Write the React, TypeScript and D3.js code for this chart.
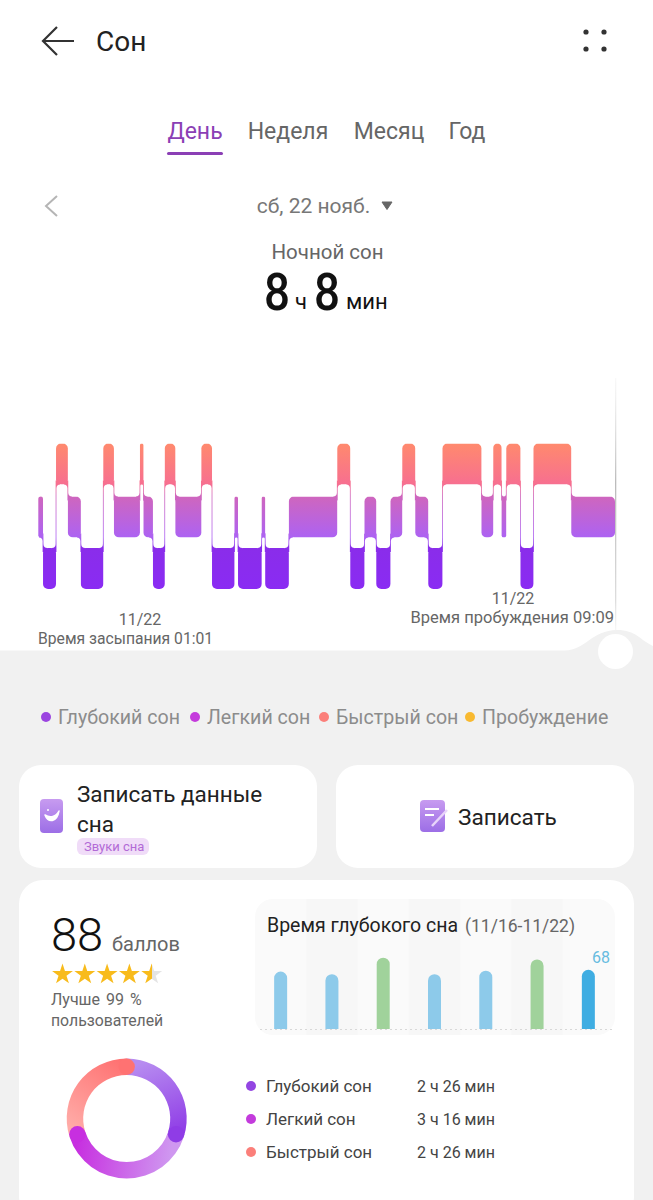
import React from 'react';
import * as d3 from 'd3';

const W = 653;
const H = 1200;
const FONT = 'Roboto, "Noto Sans", sans-serif';

// sleep stages, minutes after falling asleep at 01:01
// 0 = rem, 1 = light, 2 = deep
const segmentStages = [1, 2, 0, 1, 2, 0, 1, 0, 1, 2, 0, 1, 0, 2, 1, 2, 1, 2, 1, 0, 2, 1, 2, 1, 0, 1, 2, 0, 1, 0, 1, 0, 2, 0, 1];
const segmentEnds = [4, 15, 25, 36, 55, 64, 86, 89, 97, 107, 116, 138, 147, 166, 169, 189, 192, 212, 253, 264, 276, 286, 298, 308, 319, 330, 342, 375, 385, 392, 396, 408, 419, 451, 488];

const legendLabels = ['Глубокий сон', 'Легкий сон', 'Быстрый сон', 'Пробуждение'];
const legendColors = ['#9b45e0', '#c43bdc', '#fb7f7a', '#f8b930'];
const legendX = [46, 195, 324, 470];

// deep sleep, last 7 days
const weekValues = [66, 63, 82, 63, 67, 80, 68];
const weekDays = ['11/16', '11/17', '11/18', '11/19', '11/20', '11/21', '11/22'];

const ringNames = ['Глубокий сон', 'Легкий сон', 'Быстрый сон'];
const ringMinutes = [146, 196, 146];
const ringLabels = ['2 ч 26 мин', '3 ч 16 мин', '2 ч 26 мин'];
const ringDots = ['#9345e2', '#c33bdc', '#fb7f7a'];

const x = d3.scaleLinear().domain([0, 488]).range([38.3, 615]);
const bandTop = d3.scaleOrdinal<number, number>().domain([0, 1, 2]).range([443.5, 496.5, 548]);
const bandH = 41;

// d3.path has no roundRect here
function roundRect(x0: number, y0: number, w: number, h: number, r: number, rBottom = r) {
  const rt = Math.min(r, w / 2, h / 2);
  const rb = Math.min(rBottom, w / 2, h / 2);
  const p = d3.path();
  p.moveTo(x0 + rt, y0);
  p.lineTo(x0 + w - rt, y0);
  p.arcTo(x0 + w, y0, x0 + w, y0 + rt, rt);
  p.lineTo(x0 + w, y0 + h - rb);
  p.arcTo(x0 + w, y0 + h, x0 + w - rb, y0 + h, rb);
  p.lineTo(x0 + rb, y0 + h);
  p.arcTo(x0, y0 + h, x0, y0 + h - rb, rb);
  p.lineTo(x0, y0 + rt);
  p.arcTo(x0, y0, x0 + rt, y0, rt);
  p.closePath();
  return p.toString();
}

function Hypnogram() {
  const segs = segmentStages.map((s, i) => ({
    stage: s,
    x0: x(i === 0 ? 0 : segmentEnds[i - 1]),
    x1: x(segmentEnds[i]),
    top: bandTop(s),
  }));
  const r = 4;
  const gap = 0.4;
  return (
    <g>
      <defs>
        <linearGradient id="stageFill" gradientUnits="userSpaceOnUse" x1="0" x2="0" y1="443" y2="590">
          <stop offset="0" stopColor="#ff8a6d" />
          <stop offset="0.28" stopColor="#f76f90" />
          <stop offset="0.36" stopColor="#cf66bd" />
          <stop offset="0.64" stopColor="#ad62f2" />
          <stop offset="0.71" stopColor="#8a2dea" />
          <stop offset="1" stopColor="#8a2bf3" />
        </linearGradient>
      </defs>
      {segs.slice(1).map((s, i) => {
        const a = segs[i];
        const upper = a.top < s.top ? a : s;
        const lower = a.top < s.top ? s : a;
        return (
          <rect key={i} x={s.x0 - r} width={r * 2} y={upper.top + bandH - r} height={lower.top - upper.top - bandH + r * 2} fill="url(#stageFill)" />
        );
      })}
      {segs.map((s, i) => (
        <path key={i} d={roundRect(s.x0, s.top, s.x1 - s.x0, bandH, 5)} fill="url(#stageFill)" />
      ))}
      {segs.map((s, i) => {
        // first column runs off to the left so no connector edge shows there
        const left = i === 0 ? s.x0 - r - 2 : s.x0 + gap;
        const w = s.x1 - gap - left;
        return (
          <g key={i} fill="#fff">
            <path d={roundRect(left, 380, w, s.top - 380, r)} />
            <path d={roundRect(left, s.top + bandH, w, 610 - s.top - bandH, r)} />
          </g>
        );
      })}
    </g>
  );
}

function WeekBars() {
  const bx = d3.scaleBand<string>().domain(weekDays).range([255, 614]);
  const by = d3.scaleLinear().domain([0, 100]).range([1029, 942]);
  const barW = 13;
  return (
    <g>
      <clipPath id="weekClip">
        <rect x={255} y={899} width={360} height={136} rx={18} />
      </clipPath>
      <g clipPath="url(#weekClip)">
        {weekDays.map((d, i) => (
          <rect key={d} x={bx(d)} y={899} width={bx.bandwidth() + 1} height={136} fill={i % 2 ? '#f7f7f7' : '#fafafa'} />
        ))}
      </g>
      <line x1={260} x2={612} y1={1029.5} y2={1029.5} stroke="#d8d8d8" strokeDasharray="2 3" />
      {weekDays.map((d, i) => {
        const cx = bx(d)! + bx.bandwidth() / 2;
        const color = i === weekDays.length - 1 ? '#3fade2' : weekValues[i] >= 80 ? '#a0d29b' : '#8dcaea';
        const y0 = by(weekValues[i]);
        const h = by(0) - y0;
        return <path key={d} d={roundRect(cx - barW / 2, y0, barW, h, barW / 2, 0)} fill={color} />;
      })}
      <text x={601} y={963} textAnchor="middle" fontSize={16} fill="#67bce0">{weekValues[6]}</text>
    </g>
  );
}

function Ring() {
  const cx = 126.7;
  const cy = 1118.5;
  const pie = d3.pie<number>().sort(null);
  const arc = d3.arc<d3.PieArcDatum<number>>().innerRadius(43.5).outerRadius(60);
  const parts = pie(ringMinutes);
  const grads = [
    { from: [20, -58], to: [49, 16], c0: '#b78cf0', c1: '#8f3ce6' },
    { from: [45, 30], to: [-49, 16], c0: '#cf97f0', c1: '#c72fe0' },
    { from: [-50, 15], to: [0, -52], c0: '#ffaca8', c1: '#ff7272' },
  ];
  return (
    <g transform={`translate(${cx},${cy})`}>
      <defs>
        {grads.map((g, i) => (
          <linearGradient key={i} id={`ring${i}`} gradientUnits="userSpaceOnUse" x1={g.from[0]} y1={g.from[1]} x2={g.to[0]} y2={g.to[1]}>
            <stop offset="0" stopColor={g.c0} />
            <stop offset="1" stopColor={g.c1} />
          </linearGradient>
        ))}
      </defs>
      {parts.map((p, i) => (
        <path key={i} d={arc(p)!} fill={`url(#ring${i})`} />
      ))}
      {parts.map((p, i) => {
        const [ex, ey] = arc.centroid({ ...p, startAngle: p.endAngle, endAngle: p.endAngle });
        return <circle key={i} cx={ex} cy={ey} r={8.2} fill={grads[i].c1} />;
      })}
    </g>
  );
}

function Stars() {
  const star = d3.symbol().type(d3.symbolStar).size(135);
  const xs = d3.range(5).map((i) => 62.5 + i * 22.3);
  return (
    <g>
      <defs>
        <linearGradient id="halfStar">
          <stop offset="0.5" stopColor="#f8bb1c" />
          <stop offset="0.5" stopColor="#e4e4e4" />
        </linearGradient>
      </defs>
      {xs.map((sx, i) => (
        <path key={i} d={star()!} transform={`translate(${sx},974.5)`} fill={i === 4 ? 'url(#halfStar)' : '#f8bb1c'} />
      ))}
    </g>
  );
}

export default function App() {
  return (
    <svg width={W} height={H} viewBox={`0 0 ${W} ${H}`} fontFamily={FONT} style={{ position: 'absolute', left: 0, top: 0, background: '#fff' }}>
      <defs>
        <linearGradient id="rule" x1="0" x2="0" y1="0" y2="1">
          <stop offset="0" stopColor="#ddd" stopOpacity="0.2" />
          <stop offset="0.4" stopColor="#bbb" />
          <stop offset="0.85" stopColor="#ddd" />
          <stop offset="1" stopColor="#eee" stopOpacity="0.2" />
        </linearGradient>
        <linearGradient id="iconFill" x1="0" x2="0" y1="0" y2="1">
          <stop offset="0" stopColor="#c79bf0" />
          <stop offset="1" stopColor="#9c6ee6" />
        </linearGradient>
      </defs>

      {/* header */}
      <path d="M74 41H43M57 27L43 41L57 55" fill="none" stroke="#333" strokeWidth={2.2} />
      <text x={96} y={51} fontSize={28} fill="#222">Сон</text>
      {[[586, 32], [604, 32], [586, 49], [604, 49]].map(([cx, cy], i) => (
        <circle key={i} cx={cx} cy={cy} r={2.6} fill="#333" />
      ))}

      {/* tabs */}
      <text x={195} y={139} textAnchor="middle" fontSize={23} fill="#8b3fb5">День</text>
      <rect x={167} y={152} width={56} height={3} rx={1.5} fill="#8b3fb5" />
      <text x={288} y={139} textAnchor="middle" fontSize={23} fill="#666">Неделя</text>
      <text x={389} y={139} textAnchor="middle" fontSize={23} fill="#666">Месяц</text>
      <text x={467} y={139} textAnchor="middle" fontSize={23} fill="#666">Год</text>

      {/* date */}
      <path d="M57 196L46 206L57 216" fill="none" stroke="#b5b5b5" strokeWidth={2} />
      <text x={313.5} y={213} textAnchor="middle" fontSize={21} fill="#777">сб, 22 нояб.</text>
      <path d="M382 202H392L387 209.5Z" fill="#666" stroke="#666" strokeWidth={1} strokeLinejoin="round" />
      <text x={327.5} y={259} textAnchor="middle" fontSize={20.5} fill="#666">Ночной сон</text>
      <g fill="#111">
        <text transform="translate(264,310) scale(0.88,1)" fontSize={52} fontWeight={500}>8</text>
        <text x={295} y={309} fontSize={22}>ч</text>
        <text transform="translate(314,310) scale(0.88,1)" fontSize={52} fontWeight={500}>8</text>
        <text x={346} y={309} fontSize={22}>мин</text>
      </g>

      {/* sleep stages */}
      <rect x={615} y={378} width={1.3} height={262} fill="url(#rule)" />
      <Hypnogram />
      <text x={140} y={625} textAnchor="middle" fontSize={16} fill="#666">11/22</text>
      <text x={38} y={644} fontSize={15.7} fill="#666">Время засыпания 01:01</text>
      <text x={513} y={604} textAnchor="middle" fontSize={16} fill="#666">11/22</text>
      <text x={614} y={623} textAnchor="end" fontSize={16.5} fill="#666">Время пробуждения 09:09</text>

      {/* grey panel */}
      <path d="M0 650.5H565C585 650.5 592 630 617 630C636 630 640 640 653 646V1200H0Z" fill="#f1f1f1" />
      <circle cx={615.5} cy={651.5} r={17.5} fill="#fff" />

      {legendLabels.map((t, i) => (
        <g key={t}>
          <circle cx={legendX[i]} cy={717} r={5} fill={legendColors[i]} />
          <text x={legendX[i] + 12} y={724} fontSize={19.6} fill="#8c8c8c">{t}</text>
        </g>
      ))}

      {/* cards */}
      <rect x={19} y={765} width={298} height={103} rx={22} fill="#fff" />
      <rect x={336} y={765} width={298} height={103} rx={22} fill="#fff" />
      <rect x={40} y={799} width={23} height={34} rx={4} fill="url(#iconFill)" />
      <path d="M45 815C48 823 57 823 59 811C56 817 50 818 45 815Z" fill="#fff" stroke="#fff" strokeWidth={1.5} strokeLinejoin="round" />
      <circle cx={48} cy={810} r={1} fill="#fff" />
      <text x={77} y={802} fontSize={22.5} fill="#222">Записать данные</text>
      <text x={77} y={832} fontSize={22.5} fill="#222">сна</text>
      <rect x={77} y={838} width={72} height={17} rx={6} fill="#f0dcf8" />
      <text x={84} y={851} fontSize={13} fill="#b26ad6">Звуки сна</text>
      <rect x={420} y={800} width={25} height={32} rx={4} fill="url(#iconFill)" />
      <path d="M425 809H439M425 815H434" stroke="#fff" strokeWidth={2} />
      <path d="M432 826L447 810" stroke="#e8d4fa" strokeWidth={2.5} />
      <text x={458} y={825} fontSize={22.6} fill="#222">Записать</text>

      {/* score card */}
      <rect x={19} y={880} width={615} height={340} rx={24} fill="#fff" />
      <text x={51} y={951} fontSize={47} fontWeight={300} fill="#111">88</text>
      <text x={112} y={951} fontSize={20} fill="#666">баллов</text>
      <Stars />
      <text x={51} y={1005} fontSize={16} wordSpacing={2} fill="#666">Лучше 99 %</text>
      <text x={51} y={1026} fontSize={15.8} fill="#666">пользователей</text>

      <WeekBars />
      <text x={267} y={932} fontSize={19.5} fill="#222">Время глубокого сна</text>
      <text x={465} y={932} fontSize={17.5} fill="#666">(11/16-11/22)</text>

      <Ring />
      {ringNames.map((t, i) => (
        <g key={t}>
          <circle cx={251} cy={1086 + i * 33} r={5} fill={ringDots[i]} />
          <text x={266} y={1092 + i * 33} fontSize={17} fill="#444">{t}</text>
          <text x={417} y={1092 + i * 33} fontSize={16} fill="#444">{ringLabels[i]}</text>
        </g>
      ))}
    </svg>
  );
}
